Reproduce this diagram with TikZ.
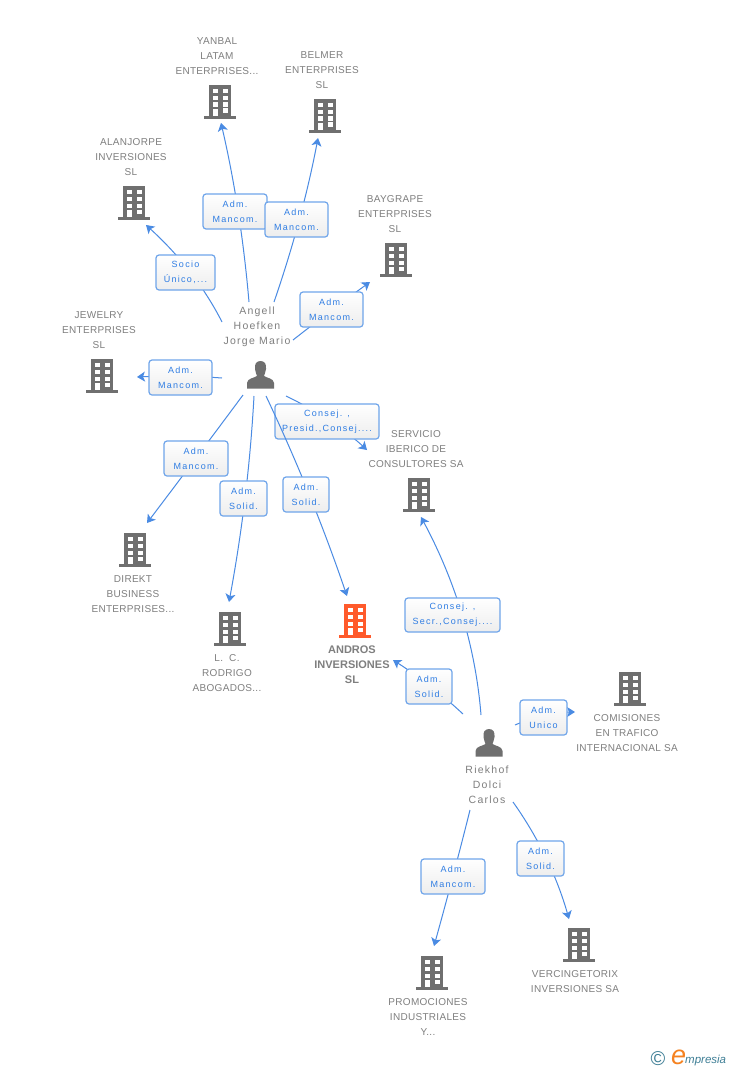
\documentclass[tikz,border=0pt]{standalone}
\usepackage{fontspec}
\setmainfont{Liberation Sans}
\usetikzlibrary{arrows.meta,calc}
\definecolor{gtext}{HTML}{7F7F7F}
\definecolor{gicon}{HTML}{6F6F6F}
\definecolor{ored}{HTML}{FF5A2B}
\definecolor{conc}{HTML}{4A8BE3}
\definecolor{boxc}{HTML}{6FA5EA}
\definecolor{ltxt}{HTML}{2F7DE3}
\definecolor{teal}{HTML}{3F7F96}
\definecolor{orng}{HTML}{F58220}
\newfontfamily\spaced[LetterSpace=3]{Liberation Sans}
\newfontfamily\pspaced[LetterSpace=12]{Liberation Sans}
\newfontfamily\lspaced[LetterSpace=14]{Liberation Sans}
\tikzset{
  x=1pt,y=-1pt,
  conn/.style={draw=conc,line width=1pt,-{Stealth[length=8pt,width=10pt,inset=2pt]}},
  namebox/.style={align=center,text=gtext,inner sep=0pt,font=\fontsize{10}{15}\selectfont\spaced},
  boldname/.style={align=center,text=gtext,inner sep=0pt,font=\fontsize{11}{15}\selectfont\bfseries},
  personname/.style={align=center,text=gtext,inner sep=0pt,font=\fontsize{10.5}{15}\selectfont\pspaced},
  rolebox/.style={draw=boxc,line width=1.2pt,rounded corners=3pt,top color=white,bottom color=white!93!black,
    text=ltxt,align=center,inner sep=0pt,font=\fontsize{9}{15}\selectfont\lspaced,
    execute at begin node={\rule{0pt}{10pt}}},
  iconmark/.style={inner sep=0pt,minimum width=32pt,minimum height=34pt}
}
% start, bend point, end: a true quadratic curve
\newcommand{\linkcurve}[3]{\draw[conn] (#1) .. controls ($(#1)!.667!(#2)$) and ($(#3)!.667!(#2)$) .. (#3);}
% name, centre x, top y, colour
\newcommand{\bldg}[4]{%
  \node[iconmark] (#1) at (#2,#3+17) {};
  \begin{scope}[shift={(#2,#3)}]
    \fill[#4] (-11,0) rectangle (11,31);
    \fill[#4] (-16,31) rectangle (16,34);
    \foreach \yy in {4,11,17.5}{
      \fill[white] (-7.5,\yy) rectangle (-2.5,\yy+4.4);
      \fill[white] (2.5,\yy) rectangle (7.5,\yy+4.4);
    }
    \fill[white] (-7.5,24) rectangle (-2.5,31);
    \fill[white] (2.5,23.5) rectangle (7.5,27.9);
  \end{scope}}
% name, centre x, top y
\newcommand{\persona}[3]{%
  \node[inner sep=0pt,minimum width=28pt,minimum height=28pt] (#1) at (#2,#3+14) {};
  \begin{scope}[shift={(#2,#3)}]
    \fill[gicon] (0,0) .. controls (4.5,0) and (6,3.5) .. (5.5,8) .. controls (5.2,11) and (4,13) .. (3.5,15)
      .. controls (6,17) and (13,17) .. (13.5,22) -- (13.5,27.5) -- (-13.5,27.5) -- (-13.5,22)
      .. controls (-13,17) and (-6,17) .. (-3.5,15) .. controls (-4,13) and (-5.2,11) .. (-5.5,8)
      .. controls (-6,3.5) and (-4.5,0) .. (0,0) -- cycle;
  \end{scope}}
\begin{document}
\begin{tikzpicture}
\useasboundingbox (0,0) rectangle (728,1070);
\fill[white] (0,0) rectangle (728,1070);

% connector ends
\coordinate (s1) at (249,302);  \coordinate (t1) at (221,123);
\coordinate (s2) at (274,302);  \coordinate (t2) at (318,138);
\coordinate (s3) at (222,322);  \coordinate (t3) at (146,225);
\coordinate (s4) at (293,340);  \coordinate (t4) at (370,282);
\coordinate (s5) at (222,378);  \coordinate (t5) at (137,377);
\coordinate (s6) at (286,396);  \coordinate (t6) at (367,450);
\coordinate (s7) at (243,395);  \coordinate (t7) at (147,523);
\coordinate (s8) at (254,396);  \coordinate (t8) at (229,602);
\coordinate (s9) at (266,396);  \coordinate (t9) at (347,596);
\coordinate (s10) at (481,715); \coordinate (t10) at (421,517);
\coordinate (s11) at (463,714); \coordinate (t11) at (393,660);
\coordinate (s12) at (515,725); \coordinate (t12) at (575,712);
\coordinate (s13) at (470,810); \coordinate (t13) at (434,946);
\coordinate (s14) at (513,802); \coordinate (t14) at (569,919);

% connectors and role labels
\linkcurve{s1}{241,209}{t1}
\node[rolebox,minimum width=64pt,minimum height=35pt] (r1) at (235,211.5) {Adm.\\Mancom.};
\linkcurve{s2}{302.5,219.5}{t2}
\node[rolebox,minimum width=63pt,minimum height=35pt] (r2) at (296.5,219.5) {Adm.\\Mancom.};
\linkcurve{s3}{196,270.5}{t3}
\node[rolebox,minimum width=59pt,minimum height=35pt] (r3) at (185.5,272.5) {Socio\\Único,...};
\linkcurve{s4}{332.5,309}{t4}
\node[rolebox,minimum width=63pt,minimum height=35pt] (r4) at (331.5,309.5) {Adm.\\Mancom.};
\linkcurve{s5}{180,375}{t5}
\node[rolebox,minimum width=63pt,minimum height=35pt] (r5) at (180.5,377.5) {Adm.\\Mancom.};
\linkcurve{s6}{333.5,419}{t6}
\node[rolebox,minimum width=104pt,minimum height=35pt] (r6) at (327,421.5) {Consej. ,\\Presid.,Consej....};
\linkcurve{s7}{197,457}{t7}
\node[rolebox,minimum width=64pt,minimum height=35pt] (r7) at (196,458.5) {Adm.\\Mancom.};
\linkcurve{s8}{248.5,497}{t8}
\node[rolebox,minimum width=47pt,minimum height=35pt] (r8) at (243.5,498.5) {Adm.\\Solid.};
\linkcurve{s9}{311.5,492}{t9}
\node[rolebox,minimum width=46pt,minimum height=35pt] (r9) at (306,494.5) {Adm.\\Solid.};
\linkcurve{s10}{473,614}{t10}
\node[rolebox,minimum width=95pt,minimum height=34pt] (r10) at (452.5,615) {Consej. ,\\Secr.,Consej....};
\linkcurve{s11}{432,685}{t11}
\node[rolebox,minimum width=46pt,minimum height=35pt] (r11) at (429,686.5) {Adm.\\Solid.};
\linkcurve{s12}{545,712}{t12}
\node[rolebox,minimum width=47pt,minimum height=35pt] (r12) at (543.5,717.5) {Adm.\\Unico};
\linkcurve{s13}{454,874}{t13}
\node[rolebox,minimum width=64pt,minimum height=35pt] (r13) at (453,876.5) {Adm.\\Mancom.};
\linkcurve{s14}{551,855.5}{t14}
\node[rolebox,minimum width=47pt,minimum height=35pt] (r14) at (540.5,858.5) {Adm.\\Solid.};

% buildings
\bldg{yanbal}{220}{85}{gicon}
\bldg{belmer}{325}{99}{gicon}
\bldg{alan}{134}{186}{gicon}
\bldg{bay}{396}{243}{gicon}
\bldg{jewelry}{102}{359}{gicon}
\bldg{servicio}{419}{478}{gicon}
\bldg{direkt}{135}{533}{gicon}
\bldg{rodrigo}{230}{612}{gicon}
\bldg{andros}{355}{604}{ored}
\bldg{comis}{630}{672}{gicon}
\bldg{verc}{579}{928}{gicon}
\bldg{promo}{432}{956}{gicon}

% people
\persona{angell}{260.5}{361}
\persona{riek}{489}{729}

% names
\node[namebox] (n1) at (217,56) {YANBAL\\LATAM\\ENTERPRISES...};
\node[namebox] (n2) at (322,70) {BELMER\\ENTERPRISES\\SL};
\node[namebox] (n3) at (131,157) {ALANJORPE\\INVERSIONES\\SL};
\node[namebox] (n4) at (395,214) {BAYGRAPE\\ENTERPRISES\\SL};
\node[namebox] (n5) at (99,330) {JEWELRY\\ENTERPRISES\\SL};
\node[namebox] (n6) at (416,449) {SERVICIO\\IBERICO DE\\CONSULTORES SA};
\node[namebox] (n7) at (133,594) {DIREKT\\BUSINESS\\ENTERPRISES...};
\node[namebox] (n8) at (227,673) {L.\ \ C.\\RODRIGO\\ABOGADOS...};
\node[boldname] (n9) at (352,664.5) {ANDROS\\INVERSIONES\\SL};
\node[namebox] (n10) at (627,733) {COMISIONES\\EN TRAFICO\\INTERNACIONAL SA};
\node[namebox] (n11) at (575,981.5) {VERCINGETORIX\\INVERSIONES SA};
\node[namebox] (n12) at (428,1017) {PROMOCIONES\\INDUSTRIALES\\Y...};
\node[personname] (n13) at (257,327) {Angell\\Hoefken\\Jorge Mario};
\node[personname] (n14) at (487,784.5) {Riekhof\\Dolci\\Carlos};

% logo
\node[inner sep=0pt,text=teal,font=\fontsize{20}{20}\selectfont] (copy) at (658,1059) {©};
\node[inner sep=0pt,anchor=base west,text=orng,font=\fontsize{27}{27}\selectfont\itshape] (logoe) at (671,1064) {e};
\node[inner sep=0pt,anchor=base west,text=teal,font=\fontsize{11.5}{12}\selectfont\itshape] (logot) at (685,1063) {mpresia};
\end{tikzpicture}
\end{document}
